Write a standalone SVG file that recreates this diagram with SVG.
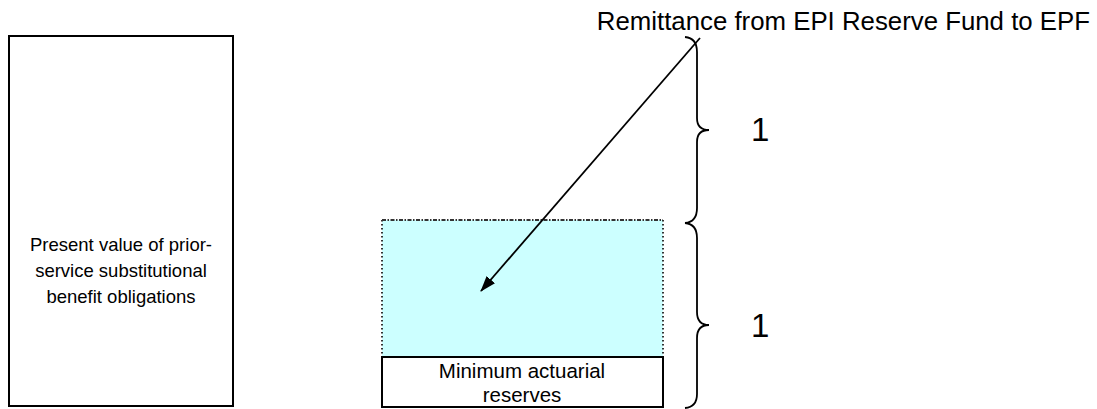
<svg xmlns="http://www.w3.org/2000/svg" width="1097" height="409" viewBox="0 0 1097 409">
<defs>
<style>
.t{font-family:"Liberation Sans",Arial,sans-serif;fill:#000}
.box{fill:#fff;stroke:#000;stroke-width:2}
.brace{fill:none;stroke:#000;stroke-width:1.8}
</style>
<marker id="ah" markerWidth="16" markerHeight="11" refX="15" refY="5.5" orient="auto" markerUnits="userSpaceOnUse" viewBox="0 0 16 11">
<path d="M0,0 L16,5.5 L0,11 Z" fill="#000"/>
</marker>
</defs>
<rect width="1097" height="409" fill="#fff"/>
<g id="pv-node">
<rect class="box" x="9" y="36" width="224" height="370"/>
<text class="t" font-size="18.5" text-anchor="middle"><tspan x="121" y="251">Present value of prior-</tspan><tspan x="121" y="277">service substitutional</tspan><tspan x="121" y="303">benefit obligations</tspan></text>
</g>
<g id="reserve-fund-node">
<rect x="382" y="220" width="281" height="137" fill="#ccffff"/>
<path d="M382,220 H663" stroke="#333" stroke-width="2" stroke-dasharray="4,1.5,1.5,1.5" fill="none"/>
<path d="M382,220 V357 M663,220 V357" stroke="#333" stroke-width="2" stroke-dasharray="1.5,2.5" fill="none"/>
</g>
<g id="min-reserves-node">
<rect class="box" x="382" y="357" width="281" height="50"/>
<text class="t" font-size="20.5" text-anchor="middle"><tspan x="522" y="378">Minimum actuarial</tspan><tspan x="522" y="402">reserves</tspan></text>
</g>
<g id="remittance-label">
<text class="t" font-size="25.8" text-anchor="end" x="1090" y="30">Remittance from EPI Reserve Fund to EPF</text>
</g>
<g id="braces">
<path class="brace" d="M685,37 Q697,38 697,52 L697,118 Q697,130 709,130 Q697,130 697,142 L697,208 Q697,222 685,223"/>
<path class="brace" d="M685,223 Q697,224 697,238 L697,312 Q697,325 709,325 Q697,325 697,338 L697,394 Q697,407 685,408"/>
<text class="t" font-size="33" x="751" y="141">1</text>
<text class="t" font-size="33" x="751" y="337">1</text>
</g>
<g id="connectors">
<line x1="700" y1="38" x2="481" y2="291" stroke="#000" stroke-width="1.8" marker-end="url(#ah)"/>
</g>
</svg>
